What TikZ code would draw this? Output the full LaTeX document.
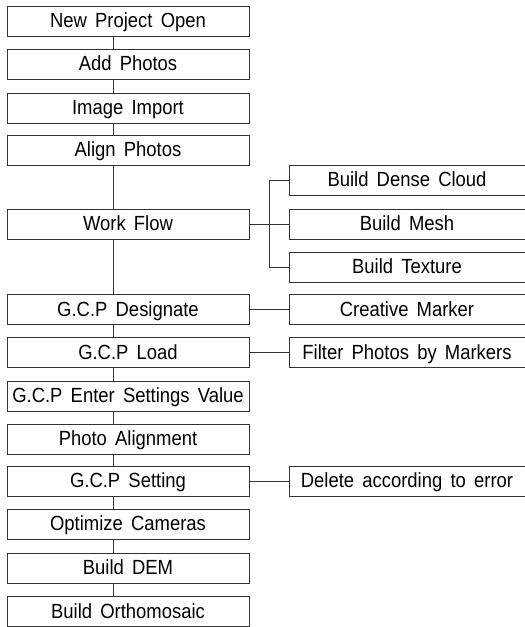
\documentclass[tikz,border=0pt]{standalone}
\usepackage{fontspec}
\setmainfont{Liberation Sans}[FakeStretch=0.9, WordSpace=1.6]
\usetikzlibrary{positioning,calc}
\tikzstyle{proc} = [rectangle, minimum width=242pt, minimum height=30pt, inner sep=0pt, text height=14.5pt, text depth=1.5pt, text centered, draw=black!80, line width=0.9pt, font=\fontsize{20.5}{22}\selectfont]
\tikzstyle{sub} = [proc, minimum width=236pt]
\tikzstyle{link} = [draw=black!80, line width=0.8pt]

\begin{document}
\begin{tikzpicture}[x=1pt, y=-1pt]
\useasboundingbox (0,0) rectangle (525,627);
% main chain
\node[proc] (open) at (128,21) {New Project Open};
\node[proc] (add) at (128,64) {Add Photos};
\node[proc] (import) at (128,108) {Image Import};
\node[proc] (align) at (128,150) {Align Photos};
\node[proc] (flow) at (128,224) {Work Flow};
\node[proc] (designate) at (128,309.5) {G.C.P Designate};
\node[proc] (load) at (128,352.5) {G.C.P Load};
\node[proc] (enter) at (128,396) {G.C.P Enter Settings Value};
\node[proc] (photoalign) at (128,439) {Photo Alignment};
\node[proc] (setting) at (128,481) {G.C.P Setting};
\node[proc] (optimize) at (128,524) {Optimize Cameras};
\node[proc] (dem) at (128,568) {Build DEM};
\node[proc] (ortho) at (128,611.5) {Build Orthomosaic};
% side boxes
\node[sub] (dense) at (407,180) {Build Dense Cloud};
\node[sub] (mesh) at (407,224) {Build Mesh};
\node[sub] (texture) at (407,267) {Build Texture};
\node[sub] (marker) at (407,309.5) {Creative Marker};
\node[sub] (filter) at (407,352.5) {Filter Photos by Markers};
\node[sub] (delete) at (407,481) {Delete according to error};

\coordinate (spine) at (113,0);
\coordinate (fork) at (269,0);

\foreach \a/\b in {open/add, add/import, import/align, align/flow, flow/designate, designate/load, load/enter, enter/photoalign, photoalign/setting, setting/optimize, optimize/dem, dem/ortho}
  \draw[link] (\a.south -| spine) -- (\b.north -| spine);

\draw[link] (flow.east) -- (flow.east -| fork);
\draw[link] (dense.west -| fork) -- (texture.west -| fork);
\foreach \n in {dense, mesh, texture}
  \draw[link] (\n.west -| fork) -- (\n.west);

\draw[link] (designate.east) -- (marker.west);
\draw[link] (load.east) -- (filter.west);
\draw[link] (setting.east) -- (delete.west);
% \draw[link] (flow.east) -- (mesh.west);
\end{tikzpicture}
\end{document}
